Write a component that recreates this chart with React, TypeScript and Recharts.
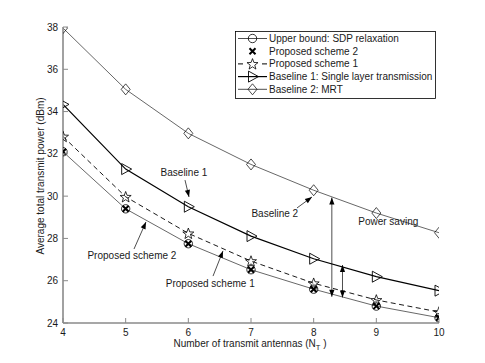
import React from 'react';
import { LineChart, Line, XAxis, YAxis, ReferenceLine, ReferenceDot, Legend } from 'recharts';

// ---------- data ----------
const antennas = [4, 5, 6, 7, 8, 9, 10];
const upperBound = [32.1, 29.4, 27.75, 26.52, 25.6, 24.8, 24.25];
const proposed2 = [32.1, 29.4, 27.75, 26.52, 25.6, 24.8, 24.25];
const proposed1 = [32.82, 29.97, 28.24, 26.93, 25.88, 25.09, 24.52];
const baseline1 = [34.34, 31.28, 29.5, 28.11, 27.04, 26.19, 25.53];
const baseline2 = [37.95, 35.05, 32.97, 31.5, 30.28, 29.2, 28.27];

const xTicks = [4, 5, 6, 7, 8, 9, 10];
const yTicks = [24, 26, 28, 30, 32, 34, 36, 38];

const seriesNames = [
  'Upper bound: SDP relaxation',
  'Proposed scheme 2',
  'Proposed scheme 1',
  'Baseline 1: Single layer transmission',
  'Baseline 2: MRT',
];

// annotations (data coordinates)
const textNotes = [
  { text: 'Baseline 1', x: 5.93, y: 31.14 },
  { text: 'Baseline 2', x: 7.38, y: 29.2 },
  { text: 'Power saving', x: 9.19, y: 28.82 },
  { text: 'Proposed scheme 2', x: 5.1, y: 27.17 },
  { text: 'Proposed scheme 1', x: 6.35, y: 25.87 },
];
const singleArrows = [
  { from: [5.947, 30.76], to: [6.011, 29.96] },
  { from: [7.734, 29.44], to: [7.973, 29.96] },
  { from: [5.133, 27.5], to: [5.324, 28.78] },
  { from: [6.394, 26.22], to: [6.553, 27.41] },
];
const doubleArrows = [
  { from: [8.29, 25.24], to: [8.29, 29.93] },
  { from: [8.46, 25.21], to: [8.46, 26.74] },
];

const data = antennas.map((n, i) => ({
  n,
  ub: upperBound[i],
  p2: proposed2[i],
  p1: proposed1[i],
  b1: baseline1[i],
  b2: baseline2[i],
}));

const FONT = '"Liberation Sans", Arial, Helvetica, sans-serif';
const FS = 10;
const AXIS = '#8a8a8a';
const TXT = '#1a1a1a';

// ---------- markers ----------
function starPath(cx: number, cy: number, R: number, r: number) {
  let d = '';
  for (let k = 0; k < 10; k++) {
    const rad = k % 2 === 0 ? R : r;
    const a = -Math.PI / 2 + (k * Math.PI) / 5;
    d += (k === 0 ? 'M' : 'L') + (cx + rad * Math.cos(a)).toFixed(2) + ',' + (cy + rad * Math.sin(a)).toFixed(2);
  }
  return d + 'Z';
}

function Marker({ kind, cx, cy }: { kind: string; cx: number; cy: number }) {
  if (cx == null || cy == null) return null;
  switch (kind) {
    case 'circle':
      return <circle cx={cx} cy={cy} r={4.2} fill="none" stroke="#000" strokeWidth={0.8} />;
    case 'x':
      return (
        <path
          d={`M${cx - 3},${cy - 3}L${cx + 3},${cy + 3}M${cx - 3},${cy + 3}L${cx + 3},${cy - 3}`}
          stroke="#000"
          strokeWidth={2}
          fill="none"
        />
      );
    case 'star':
      return <path d={starPath(cx, cy + 0.5, 5.8, 2.4)} fill="none" stroke="#000" strokeWidth={0.8} />;
    case 'tri':
      return (
        <path
          d={`M${cx - 4},${cy - 5.5}L${cx + 6},${cy}L${cx - 4},${cy + 5.5}Z`}
          fill="none"
          stroke="#000"
          strokeWidth={0.9}
        />
      );
    case 'diamond':
      return (
        <path
          d={`M${cx},${cy - 5.5}L${cx + 4.5},${cy}L${cx},${cy + 5.5}L${cx - 4.5},${cy}Z`}
          fill="none"
          stroke="#000"
          strokeWidth={0.7}
        />
      );
    default:
      return null;
  }
}

const dotFor = (kind: string) => (p: any) => (
  <g key={`${kind}-${p.index}`}>
    <Marker kind={kind} cx={p.cx} cy={p.cy} />
  </g>
);

// ---------- axes ticks ----------
const BottomTick = (p: any) => (
  <g>
    <line x1={p.x} y1={p.y} x2={p.x} y2={p.y - 5} stroke={AXIS} strokeWidth={1} />
    <text x={p.x} y={p.y + 12.5} textAnchor="middle" fontSize={FS} fontFamily={FONT} fill={TXT}>
      {p.payload.value}
    </text>
  </g>
);
const TopTick = (p: any) => (
  <g>
    <line x1={p.x} y1={p.y} x2={p.x} y2={p.y + 5} stroke={AXIS} strokeWidth={1} />
  </g>
);
const LeftTick = (p: any) => (
  <g>
    <line x1={p.x} y1={p.y} x2={p.x + 5} y2={p.y} stroke={AXIS} strokeWidth={1} />
    <text x={p.x - 5} y={p.y + 3.5} textAnchor="end" fontSize={FS} fontFamily={FONT} fill={TXT}>
      {p.payload.value}
    </text>
  </g>
);
const RightTick = (p: any) => (
  <g>
    <line x1={p.x} y1={p.y} x2={p.x - 5} y2={p.y} stroke={AXIS} strokeWidth={1} />
  </g>
);

// ---------- arrows ----------
function head(x1: number, y1: number, x2: number, y2: number) {
  const dx = x2 - x1;
  const dy = y2 - y1;
  const L = Math.sqrt(dx * dx + dy * dy) || 1;
  const ux = dx / L;
  const uy = dy / L;
  const len = 7;
  const w = 2.6;
  const bx = x2 - ux * len;
  const by = y2 - uy * len;
  return `M${x2},${y2}L${bx - uy * w},${by + ux * w}L${bx + uy * w},${by - ux * w}Z`;
}

const SingleArrow = (p: any) => (
  <g>
    <line x1={p.x1} y1={p.y1} x2={p.x2} y2={p.y2} stroke="#000" strokeWidth={0.7} />
    <path d={head(p.x1, p.y1, p.x2, p.y2)} fill="#000" />
  </g>
);
const DoubleArrow = (p: any) => (
  <g>
    <line x1={p.x1} y1={p.y1} x2={p.x2} y2={p.y2} stroke="#000" strokeWidth={0.7} />
    <path d={head(p.x1, p.y1, p.x2, p.y2)} fill="#000" />
    <path d={head(p.x2, p.y2, p.x1, p.y1)} fill="#000" />
  </g>
);

// ---------- legend ----------
const legendRows = [
  { kind: 'circle', line: 'solid', w: 0.7 },
  { kind: 'x', line: 'none', w: 0 },
  { kind: 'star', line: 'dash', w: 1 },
  { kind: 'tri', line: 'solid', w: 1.2 },
  { kind: 'diamond', line: 'solid', w: 0.7 },
];

const LegendBox = () => (
  <svg width={201} height={68} style={{ display: 'block' }}>
    <rect x={0.5} y={0.5} width={200} height={67} fill="#fff" stroke="#000" strokeWidth={0.8} />
    {legendRows.map((r, i) => {
      const y = 7.5 + i * 12.7;
      return (
        <g key={i}>
          {r.line === 'solid' && <line x1={3} y1={y} x2={32} y2={y} stroke="#000" strokeWidth={r.w} />}
          {r.line === 'dash' && (
            <line x1={3} y1={y} x2={32} y2={y} stroke="#000" strokeWidth={r.w} strokeDasharray="5 19" />
          )}
          <Marker kind={r.kind} cx={17.5} cy={y} />
          <text x={34} y={y + 3.5} fontSize={FS} fontFamily={FONT} fill={TXT}>
            {seriesNames[i]}
          </text>
        </g>
      );
    })}
  </svg>
);

export default function App() {
  return (
    <div style={{ position: 'absolute', left: 0, top: 0, width: 485, height: 363, background: '#fff' }}>
      <LineChart
        width={485}
        height={363}
        data={data}
        margin={{ top: 27, right: 46, bottom: 10, left: 33 }}
      >
        <XAxis
          dataKey="n"
          type="number"
          domain={[4, 10]}
          ticks={xTicks}
          allowDataOverflow
          height={30}
          tickSize={0}
          tickMargin={0}
          tickLine={false}
          tick={BottomTick}
          axisLine={{ stroke: AXIS, strokeWidth: 1.6 }}
          label={{
            content: () => (
              <text x={250} y={346.5} textAnchor="middle" fontSize={FS} fontFamily={FONT} fill={TXT}>
                Number of transmit antennas (N
                <tspan fontSize={7.5} dy={3}>T</tspan>
                <tspan dy={-3}> )</tspan>
              </text>
            ),
          }}
        />
        <XAxis
          xAxisId="top"
          orientation="top"
          dataKey="n"
          type="number"
          domain={[4, 10]}
          ticks={xTicks}
          allowDataOverflow
          height={0}
          tickSize={0}
          tickMargin={0}
          tickLine={false}
          tick={TopTick}
          axisLine={{ stroke: AXIS, strokeWidth: 1.6 }}
        />
        <YAxis
          type="number"
          domain={[24, 38]}
          ticks={yTicks}
          allowDataOverflow
          width={30}
          tickSize={0}
          tickMargin={0}
          tickLine={false}
          tick={LeftTick}
          axisLine={{ stroke: AXIS, strokeWidth: 1.6 }}
          label={{
            content: () => (
              <text
                x={0}
                y={3.5}
                transform="translate(40,176) rotate(-90)"
                textAnchor="middle"
                fontSize={FS}
                fontFamily={FONT}
                fill={TXT}
              >
                Average total transmit power (dBm)
              </text>
            ),
          }}
        />
        <YAxis
          yAxisId="right"
          orientation="right"
          type="number"
          domain={[24, 38]}
          ticks={yTicks}
          allowDataOverflow
          width={0}
          tickSize={0}
          tickMargin={0}
          tickLine={false}
          tick={RightTick}
          axisLine={{ stroke: AXIS, strokeWidth: 1.6 }}
        />
        <Legend
          layout="vertical"
          align="center"
          verticalAlign="middle"
          content={() => <LegendBox />}
          wrapperStyle={{ position: 'absolute', left: 235, top: 31, width: 201, height: 68, margin: 0 }}
        />

        <Line dataKey="b2" name={seriesNames[4]} stroke="#000" strokeWidth={0.6} dot={dotFor('diamond')} isAnimationActive={false} />
        <Line dataKey="b1" name={seriesNames[3]} stroke="#000" strokeWidth={1.2} dot={dotFor('tri')} isAnimationActive={false} />
        <Line
          dataKey="p1"
          name={seriesNames[2]}
          stroke="#000"
          strokeWidth={0.9}
          strokeDasharray="5 3.5"
          dot={dotFor('star')}
          isAnimationActive={false}
        />
        <Line dataKey="ub" name={seriesNames[0]} stroke="#000" strokeWidth={0.6} dot={dotFor('circle')} isAnimationActive={false} />
        <Line dataKey="p2" name={seriesNames[1]} stroke="none" dot={dotFor('x')} isAnimationActive={false} />

        {singleArrows.map((a, i) => (
          <ReferenceLine
            key={`sa${i}`}
            segment={[{ x: a.from[0], y: a.from[1] }, { x: a.to[0], y: a.to[1] }]}
            shape={SingleArrow}
          />
        ))}
        {doubleArrows.map((a, i) => (
          <ReferenceLine
            key={`da${i}`}
            segment={[{ x: a.from[0], y: a.from[1] }, { x: a.to[0], y: a.to[1] }]}
            shape={DoubleArrow}
          />
        ))}
        {textNotes.map((t, i) => (
          <ReferenceDot
            key={`tn${i}`}
            x={t.x}
            y={t.y}
            r={0}
            shape={(p: any) => (
              <text x={p.cx} y={p.cy + 3.5} textAnchor="middle" fontSize={FS} fontFamily={FONT} fill={TXT}>
                {t.text}
              </text>
            )}
          />
        ))}
      </LineChart>
    </div>
  );
}
